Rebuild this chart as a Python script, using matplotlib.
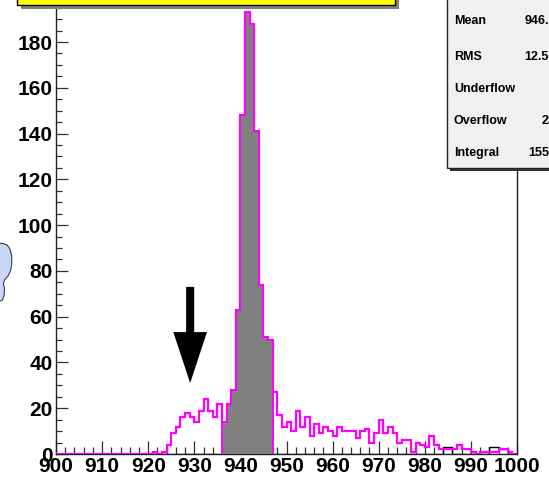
import numpy as np
import matplotlib
matplotlib.use("Agg")
import matplotlib.pyplot as plt
from matplotlib.patches import Rectangle, Polygon, FancyArrow

# ---- histogram contents (1-unit bins from 900 to 1000) ----
x_min, x_max = 900, 1000
all_counts = [
    0, 0, 0, 0, 0, 0, 0, 0, 0, 0,          # 900-909
    0, 0, 0, 0, 0, 0, 0, 0, 0, 0,          # 910-919
    0, 1, 0, 1, 4, 9, 12, 16, 18, 16,      # 920-929
    14, 19, 24, 19, 16, 22, 14, 22, 28, 63,  # 930-939
    148, 193, 188, 141, 74, 51, 50, 27, 17, 12,  # 940-949
    14, 10, 19, 12, 16, 8, 13, 9, 12, 10,  # 950-959
    8, 12, 10, 10, 10, 7, 10, 11, 5, 9,    # 960-969
    15, 9, 12, 9, 5, 6, 6, 1, 5, 4,        # 970-979
    3, 8, 4, 2, 2, 2, 2, 4, 2, 2,          # 980-989
    1, 0, 1, 1, 1, 1, 2, 2, 1, 0,          # 990-999
]
# selected window, drawn filled
window_lo, window_hi = 936, 947
# second (reference) histogram, non-zero bins
ref_bins = [984, 985, 994, 995, 996, 997]
ref_values = [3, 3, 3, 3, 2, 2]

# statistics box
stat_names = ["Mean", "RMS", "Underflow", "Overflow", "Integral"]
stat_values = ["946.2", "12.55", "0", "23", "1554"]

# arrow marking the low-side shoulder
arrow_x, arrow_top, arrow_tip = 929.1, 73.0, 31.0

W, H = 549, 483
fig = plt.figure(figsize=(W / 100, H / 100), dpi=100)
fig.patch.set_facecolor("white")

FONT = ["Liberation Sans", "DejaVu Sans"]
MAGENTA = "#ff00ff"

y_top = 202.6
px_per_y = (454 - 42) / 180.0
ax_h = y_top * px_per_y
ax = fig.add_axes([56 / W, (H - 454) / H, (517 - 56) / W, ax_h / H])

edges = np.arange(x_min, x_max + 1)
counts = np.array(all_counts, dtype=float)

# reference histogram (black outline)
ref = np.zeros_like(counts)
for b, v in zip(ref_bins, ref_values):
    ref[b - x_min] = v
ax.stairs(ref, edges, color="black", linewidth=1.0, zorder=2)

# full histogram (magenta outline)
ax.stairs(counts, edges, color=MAGENTA, linewidth=1.6, zorder=3)

# filled window histogram, gray with magenta outline
i0, i1 = window_lo - x_min, window_hi - x_min
ax.stairs(counts[i0:i1], edges[i0:i1 + 1], fill=True, facecolor="#808080",
          edgecolor=MAGENTA, linewidth=1.4, zorder=4)

ax.set_xlim(x_min, x_max)
ax.set_ylim(0, y_top)

ax.set_xticks(np.arange(900, 1001, 10))
ax.set_xticks(np.arange(900, 1001, 2), minor=True)
ax.set_yticks(np.arange(0, 181, 20))
ax.set_yticks(np.arange(0, 201, 5), minor=True)

ax.tick_params(axis="x", which="major", direction="in", length=9.5, width=0.9,
               color="#333333", pad=2)
ax.tick_params(axis="x", which="minor", direction="in", length=4.8, width=0.9,
               color="#333333")
ax.tick_params(axis="y", which="major", direction="in", length=8.6, width=0.9,
               color="#333333", pad=2.5)
ax.tick_params(axis="y", which="minor", direction="in", length=4.4, width=0.9,
               color="#333333")
for lab in ax.get_xticklabels() + ax.get_yticklabels():
    lab.set_fontfamily(FONT)
    lab.set_fontweight("bold")
    lab.set_fontsize(15)

for s in ["left", "bottom", "right"]:
    ax.spines[s].set_linewidth(1.0)
    ax.spines[s].set_color("#222222")
ax.spines["top"].set_visible(False)

# arrow
head_len = (arrow_top - arrow_tip) * 0.53
ax.add_patch(FancyArrow(arrow_x, arrow_top, 0, arrow_tip - arrow_top,
                        width=1.75, head_width=7.3, head_length=head_len,
                        length_includes_head=True, color="black",
                        linewidth=0, zorder=5))


def fpx(x, y):
    """pixel position (origin top-left) -> figure fraction"""
    return x / W, 1 - y / H


# title pave with shadow
x0, y0 = fpx(21, 9)
fig.add_artist(Rectangle((x0, y0), (399 - 21) / W, 30 / H,
                         transform=fig.transFigure, facecolor="#808080",
                         edgecolor="none", zorder=10))
x0, y0 = fpx(17, 5)
fig.add_artist(Rectangle((x0, y0), (395 - 17) / W, 30 / H,
                         transform=fig.transFigure, facecolor="#ffff00",
                         edgecolor="black", linewidth=1.0, zorder=11))

# statistics box with shadow
x0, y0 = fpx(450, 171)
fig.add_artist(Rectangle((x0, y0), 200 / W, 250 / H,
                         transform=fig.transFigure, facecolor="#333333",
                         edgecolor="none", zorder=10))
x0, y0 = fpx(447, 168)
fig.add_artist(Rectangle((x0, y0), 200 / W, 250 / H,
                         transform=fig.transFigure, facecolor="#f0f0f0",
                         edgecolor="#222222", linewidth=1.0, zorder=11))
row_y = [21.5, 56.5, 88.5, 121, 153]
for name, val, ry in zip(stat_names, stat_values, row_y):
    fx, fy = fpx(454, ry)
    fig.text(fx, fy, name, ha="left", va="center", fontsize=9,
             fontweight="bold", family=FONT, zorder=12)
    fx, fy = fpx(556, ry)
    fig.text(fx, fy, val, ha="right", va="center", fontsize=9,
             fontweight="bold", family=FONT, zorder=12)

# small cloud-shaped pave at the left edge
cloud_px = [(-5, 243), (3, 243.5), (7, 245), (10, 249), (11.7, 256),
            (11.8, 263), (10.8, 270), (8, 276), (4.5, 280), (3.4, 284),
            (4.4, 288), (4.2, 295), (2.5, 300), (-5, 303)]
fig.add_artist(Polygon([fpx(x, y) for x, y in cloud_px], closed=True,
                       transform=fig.transFigure, facecolor="#c8d7f5",
                       edgecolor="#3a3a55", linewidth=0.8, zorder=12,
                       joinstyle="round"))

fig.savefig("out.png", dpi=100)
